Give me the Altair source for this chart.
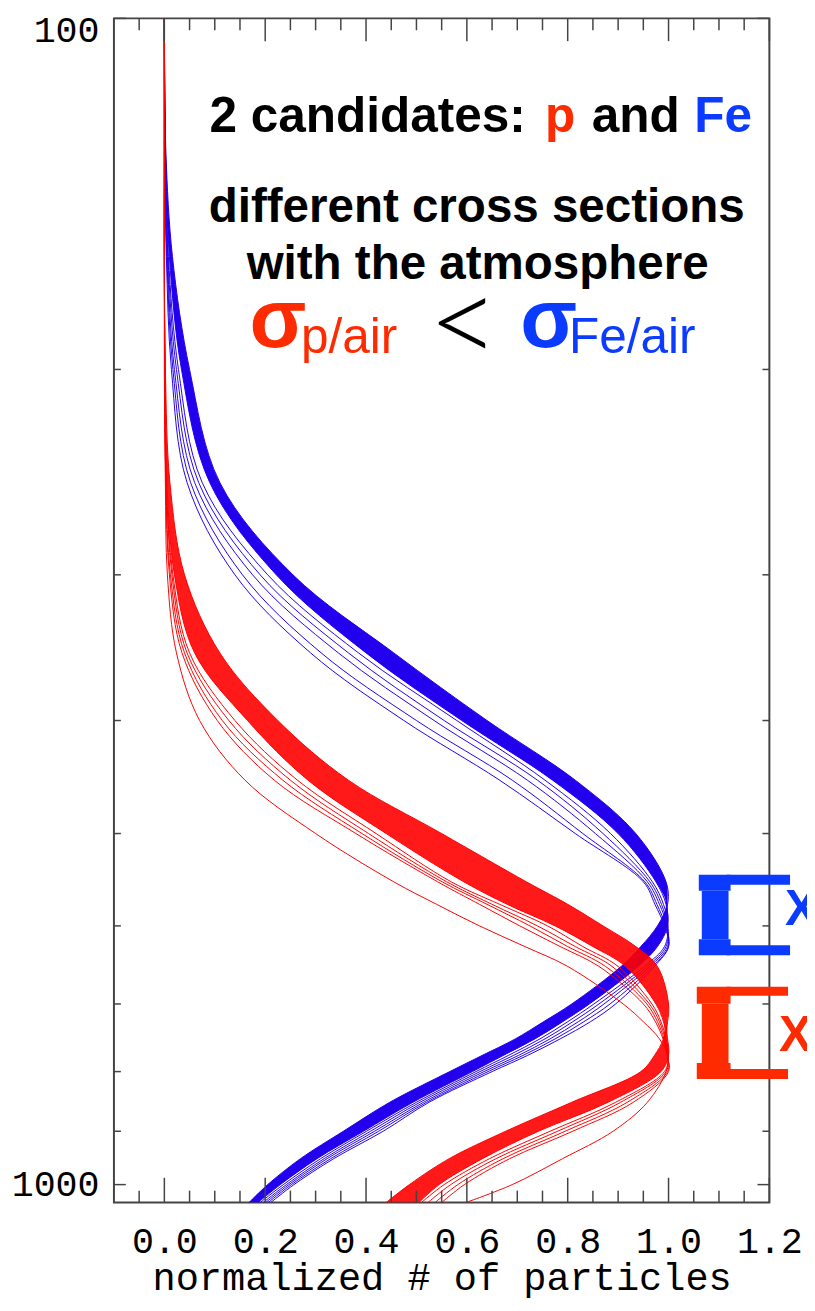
import altair as alt
import pandas as pd

# ---------------- data ----------------
# atmospheric depth grid (g/cm^2) shared by all profiles
DEPTH = [100, 130, 160, 200, 250, 300, 350, 400, 450, 500, 550, 575, 600,
         625, 650, 700, 725, 750, 775, 800, 850, 900, 950, 1000, 1036]

# iron (blue) profiles: edges of the dense bundle + spread-out showers
FE_CORE_EARLY = [0.000, 0.003, 0.016, 0.050, 0.110, 0.255, 0.455, 0.640, 0.815, 0.935, 0.995, 0.998, 0.978,
                 0.945, 0.906, 0.808, 0.752, 0.696, 0.630, 0.566, 0.447, 0.355, 0.270, 0.205, 0.168]
FE_CORE_LATE = [0.000, 0.002, 0.010, 0.034, 0.090, 0.222, 0.400, 0.590, 0.770, 0.900, 0.975, 0.995, 0.998,
                0.978, 0.940, 0.843, 0.790, 0.735, 0.672, 0.611, 0.493, 0.395, 0.303, 0.230, 0.186]
FE_SPREAD_1 = [0.000, 0.002, 0.008, 0.028, 0.075, 0.205, 0.385, 0.580, 0.755, 0.885, 0.968, 0.990, 0.999,
               0.992, 0.952, 0.852, 0.800, 0.745, 0.682, 0.618, 0.500, 0.401, 0.310, 0.236, 0.190]
FE_SPREAD_2 = [0.000, 0.002, 0.007, 0.024, 0.068, 0.190, 0.365, 0.555, 0.740, 0.870, 0.963, 0.986, 0.998,
               0.995, 0.958, 0.862, 0.810, 0.755, 0.692, 0.626, 0.507, 0.409, 0.317, 0.242, 0.196]
FE_SPREAD_3 = [0.000, 0.001, 0.006, 0.020, 0.060, 0.175, 0.345, 0.535, 0.720, 0.855, 0.958, 0.982, 0.997,
               0.998, 0.963, 0.872, 0.821, 0.765, 0.702, 0.634, 0.514, 0.417, 0.323, 0.247, 0.201]
FE_SPREAD_4 = [0.000, 0.001, 0.005, 0.017, 0.052, 0.155, 0.311, 0.500, 0.690, 0.830, 0.953, 0.977, 0.994,
               1.000, 0.968, 0.884, 0.832, 0.775, 0.711, 0.642, 0.520, 0.425, 0.330, 0.252, 0.206]
FE_SPREAD_5 = [0.000, 0.001, 0.004, 0.014, 0.045, 0.140, 0.290, 0.475, 0.665, 0.815, 0.950, 0.973, 0.992,
               1.000, 0.972, 0.895, 0.845, 0.785, 0.720, 0.650, 0.525, 0.434, 0.336, 0.257, 0.211]

# proton (red) profiles
P_CORE_EARLY = [0.000, 0.000, 0.000, 0.002, 0.011, 0.040, 0.110, 0.225, 0.365, 0.550, 0.718, 0.800, 0.870,
                0.935, 0.978, 1.000, 0.998, 0.990, 0.972, 0.945, 0.808, 0.677, 0.565, 0.486, 0.440]
P_CORE_LATE = [0.000, 0.000, 0.000, 0.001, 0.005, 0.020, 0.060, 0.165, 0.285, 0.440, 0.594, 0.680, 0.775,
               0.850, 0.915, 0.975, 0.990, 0.998, 1.000, 0.985, 0.880, 0.742, 0.631, 0.545, 0.505]
P_SPREAD_1 = [0.000, 0.000, 0.000, 0.001, 0.004, 0.017, 0.050, 0.140, 0.264, 0.420, 0.569, 0.665, 0.760,
              0.830, 0.900, 0.967, 0.985, 0.995, 1.000, 0.992, 0.895, 0.765, 0.645, 0.555, 0.510]
P_SPREAD_2 = [0.000, 0.000, 0.000, 0.001, 0.004, 0.015, 0.045, 0.128, 0.250, 0.405, 0.560, 0.650, 0.740,
              0.815, 0.888, 0.962, 0.982, 0.993, 0.999, 0.995, 0.905, 0.780, 0.658, 0.568, 0.523]
P_SPREAD_3 = [0.000, 0.000, 0.000, 0.001, 0.003, 0.012, 0.040, 0.115, 0.235, 0.392, 0.551, 0.640, 0.725,
              0.800, 0.875, 0.957, 0.978, 0.991, 0.998, 0.998, 0.918, 0.795, 0.672, 0.582, 0.537]
P_SPREAD_4 = [0.000, 0.000, 0.000, 0.001, 0.003, 0.010, 0.035, 0.105, 0.218, 0.380, 0.542, 0.625, 0.705,
              0.785, 0.862, 0.950, 0.974, 0.989, 0.997, 1.000, 0.930, 0.810, 0.685, 0.595, 0.550]
P_LATEST = [0.000, 0.000, 0.000, 0.000, 0.002, 0.006, 0.024, 0.070, 0.160, 0.300, 0.455, 0.540, 0.625,
            0.715, 0.800, 0.910, 0.950, 0.982, 0.998, 0.995, 0.958, 0.890, 0.790, 0.690, 0.598]

# axis ticks / labels
X_LABELS = [0.0, 0.2, 0.4, 0.6, 0.8, 1.0, 1.2]
X_MINOR = [-0.05, 0.05, 0.10, 0.15, 0.25, 0.30, 0.35, 0.45, 0.50, 0.55, 0.65, 0.70, 0.75,
           0.85, 0.90, 0.95, 1.05, 1.10, 1.15]
Y_LABELS = [100, 1000]
Y_MINOR = [200, 300, 400, 500, 600, 700, 800, 900]

# annotation texts (positions in data units: normalized value, depth)
LINE1_TEXT = ["2 candidates:", "p", "and", "Fe"]
LINE1_WHO = ["none", "p", "none", "Fe"]
LINE1_V = [0.0895, 0.755, 0.8476, 1.051]
LINE1_DEPTH = 125.2
LINE23_TEXT = ["different cross sections", "with the atmosphere"]
LINE23_V = [0.6195, 0.6214]
LINE23_DEPTH = [149.4, 167.2]
SIGMA_WHO = ["p", "Fe"]
SIGMA_V = [0.169, 0.706]
SIGMA_DEPTH = [191.3, 191.3]
SUB_TEXT = ["p/air", "Fe/air"]
SUB_V = [0.2708, 0.8024]
SUB_DEPTH = [193.6, 193.6]
LESS_V = 0.5939
LESS_DEPTH = 198.2

# Xmax brackets (pieces: v0, v1, depth0, depth1) and their labels
BR_WHO = ["Fe"] * 5 + ["p"] * 5
BR_V0 = [1.060, 1.066, 1.060, 1.115, 1.115, 1.056, 1.066, 1.056, 1.115, 1.115]
BR_V1 = [1.123, 1.119, 1.123, 1.241, 1.241, 1.123, 1.119, 1.123, 1.237, 1.237]
BR_D0 = [542.5, 559.8, 616.1, 542.5, 623.4, 676.6, 699.6, 786.6, 676.6, 795.9]
BR_D1 = [559.8, 616.1, 635.7, 553.3, 635.7, 699.6, 786.6, 811.6, 688.7, 811.6]
XLAB_WHO = ["Fe", "p"]
XLAB_V = [1.231, 1.219]
XLAB_DEPTH = [599.3, 768.3]

# ---------------- build chart ----------------
W, H = 662, 1196
BLUE_LINE = "#2200EE"
RED_LINE = "#FF0000"
TICK = "#444444"

XS = alt.Scale(domain=[-0.1, 1.2], nice=False, zero=False)
YS = alt.Scale(type="log", domain=[100, 1036], reverse=True, nice=False)
XA = alt.Axis(values=X_LABELS, format=".1f", ticks=False, domain=False, grid=False,
              labelFont="Liberation Mono", labelFontSize=37, labelColor="black",
              labelPadding=21, labelFlush=False,
              title="normalized # of particles", titleFont="Liberation Mono",
              titleFontSize=39, titleFontWeight="normal", titleColor="black",
              titleY=88, titleBaseline="alphabetic")
YA = alt.Axis(values=Y_LABELS, format="d", ticks=False, domain=False, grid=False,
              labelFont="Liberation Mono", labelFontSize=37, labelColor="black",
              labelPadding=15, labelFlush=True, labelFlushOffset=6, title=None)
WHO_COLORS = alt.Scale(domain=["none", "p", "Fe"], range=["#000000", "#FF2B00", "#0B3BFF"])


def X(field):
    return alt.X(field, scale=XS, axis=XA)


def Y(field):
    return alt.Y(field, scale=YS, axis=YA)


def curves_frame(named):
    rows = []
    for name, vals in named.items():
        for d, v in zip(DEPTH, vals):
            rows.append({"curve": name, "depth": d, "v": v})
    return pd.DataFrame(rows)


def band_frame(a, b):
    return pd.DataFrame({"depth": DEPTH,
                         "lo": [min(p, q) for p, q in zip(a, b)],
                         "hi": [max(p, q) for p, q in zip(a, b)]})


fe_lines = curves_frame({"e": FE_CORE_EARLY, "l": FE_CORE_LATE, "s1": FE_SPREAD_1,
                         "s2": FE_SPREAD_2, "s3": FE_SPREAD_3, "s4": FE_SPREAD_4,
                         "s5": FE_SPREAD_5})
p_lines = curves_frame({"e": P_CORE_EARLY, "l": P_CORE_LATE, "s1": P_SPREAD_1,
                        "s2": P_SPREAD_2, "s3": P_SPREAD_3, "s4": P_SPREAD_4,
                        "x": P_LATEST})


def band(df, color, opacity):
    return alt.Chart(df).mark_area(orient="horizontal", interpolate="catmull-rom",
                                   color=color, opacity=opacity, clip=True).encode(
        y=Y("depth:Q"), x=X("lo:Q"), x2="hi:Q")


def lines(df, color):
    return alt.Chart(df).mark_line(interpolate="catmull-rom", color=color,
                                   strokeWidth=1.0, clip=True).encode(
        x=X("v:Q"), y=Y("depth:Q"), detail="curve:N", order="depth:Q")


def xticks(vals, y0, y1):
    return alt.Chart(pd.DataFrame({"v": vals})).mark_rule(color=TICK, strokeWidth=1.5).encode(
        x=X("v:Q"), y=alt.value(y0), y2=alt.value(y1))


def yticks(vals, x0, x1):
    return alt.Chart(pd.DataFrame({"depth": vals})).mark_rule(color=TICK, strokeWidth=1.5).encode(
        y=Y("depth:Q"), x=alt.value(x0), x2=alt.value(x1))


def text_layer(df, size, weight, align, font="Liberation Sans"):
    return alt.Chart(df).mark_text(font=font, fontSize=size, fontWeight=weight, align=align,
                                   baseline="alphabetic", clip=False).encode(
        x=X("v:Q"), y=Y("depth:Q"), text="label:N",
        color=alt.Color("who:N", scale=WHO_COLORS, legend=None))


line1 = pd.DataFrame({"label": LINE1_TEXT, "who": LINE1_WHO, "v": LINE1_V,
                      "depth": [LINE1_DEPTH] * len(LINE1_TEXT)})
line23 = pd.DataFrame({"label": LINE23_TEXT, "who": ["none", "none"], "v": LINE23_V,
                       "depth": LINE23_DEPTH})
sigmas = pd.DataFrame({"label": ["σ", "σ"], "who": SIGMA_WHO, "v": SIGMA_V, "depth": SIGMA_DEPTH})
subs = pd.DataFrame({"label": SUB_TEXT, "who": SIGMA_WHO, "v": SUB_V, "depth": SUB_DEPTH})
less = pd.DataFrame({"label": ["<"], "who": ["none"], "v": [LESS_V], "depth": [LESS_DEPTH]})
xlabs = pd.DataFrame({"label": ["X", "X"], "who": XLAB_WHO, "v": XLAB_V, "depth": XLAB_DEPTH})
brackets = pd.DataFrame({"who": BR_WHO, "v0": BR_V0, "v1": BR_V1, "d0": BR_D0, "d1": BR_D1})

bracket_layer = alt.Chart(brackets).mark_rect(clip=False).encode(
    x=X("v0:Q"), x2="v1:Q", y=Y("d0:Q"), y2="d1:Q",
    color=alt.Color("who:N", scale=WHO_COLORS, legend=None))

layers = [
    band(band_frame(FE_CORE_EARLY, FE_CORE_LATE), BLUE_LINE, 1.0),
    lines(fe_lines, BLUE_LINE),
    band(band_frame(P_CORE_EARLY, P_CORE_LATE), RED_LINE, 0.9),
    lines(p_lines, RED_LINE),
    xticks(X_LABELS, H, H - 25), xticks(X_MINOR, H, H - 12),
    xticks(X_LABELS, 0, 23), xticks(X_MINOR, 0, 12),
    yticks(Y_LABELS, 0, 12), yticks(Y_MINOR, 0, 7),
    yticks(Y_LABELS, W, W - 12), yticks(Y_MINOR, W, W - 7),
    text_layer(line1, 50, "bold", "left"),
    text_layer(line23, 48, "bold", "center"),
    text_layer(sigmas, 84, "bold", "left"),
    text_layer(subs, 50, "normal", "left"),
    text_layer(less, 125, 300, "center", font="Lato"),
    bracket_layer,
    text_layer(xlabs, 50, "bold", "left"),
]

chart = alt.layer(*layers).properties(
    width=W, height=H,
    autosize=alt.AutoSizeParams(type="none"),
    padding={"left": 107, "top": 4, "right": 38, "bottom": 95},
    background="white",
).configure_view(stroke="#444444", strokeWidth=2)

chart.save("out.html", embed_options={"renderer": "svg", "actions": False})
